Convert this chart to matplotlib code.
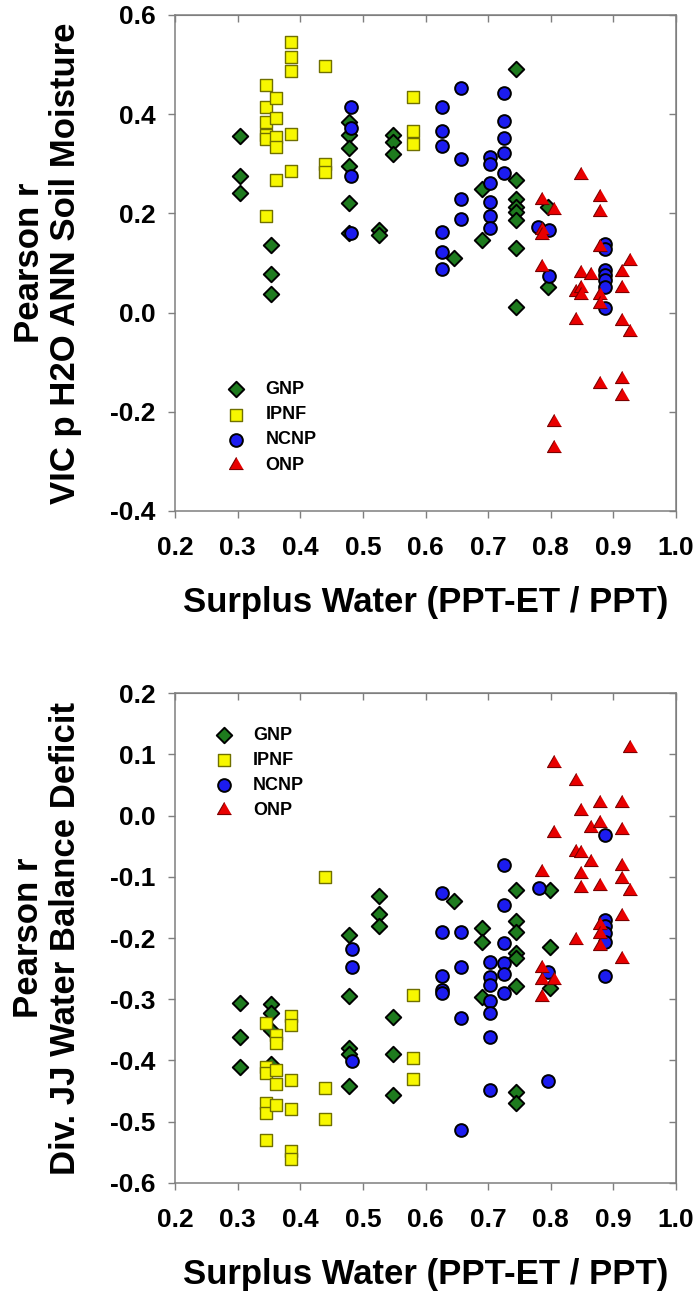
import matplotlib
matplotlib.use("Agg")
import matplotlib.pyplot as plt

plt.rcParams['font.family'] = ['Liberation Sans', 'DejaVu Sans']
plt.rcParams['font.weight'] = 'bold'

# ---- top panel: VIC p H2O ANN Soil Moisture ----
gnp_x1 = [0.303]*3 + [0.354]*3 + [0.478]*6 + [0.525]*2 + [0.548]*3 + [0.646] + [0.690]*2 + [0.744]*8 + [0.795]*2
gnp_y1 = [0.357, 0.276, 0.242,
          0.136, 0.078, 0.037,
          0.385, 0.358, 0.331, 0.296, 0.220, 0.160,
          0.166, 0.156,
          0.359, 0.344, 0.320,
          0.110,
          0.250, 0.147,
          0.492, 0.267, 0.229, 0.213, 0.203, 0.186, 0.131, 0.012,
          0.213, 0.052]

ipnf_x1 = [0.345]*6 + [0.362]*5 + [0.385]*5 + [0.440]*3 + [0.580]*3
ipnf_y1 = [0.459, 0.414, 0.385, 0.358, 0.351, 0.194,
           0.433, 0.392, 0.355, 0.334, 0.268,
           0.546, 0.515, 0.487, 0.360, 0.285,
           0.498, 0.299, 0.283,
           0.435, 0.366, 0.340]

ncnp_x1 = [0.481]*4 + [0.627]*6 + [0.657]*4 + [0.703]*6 + [0.725]*5 + [0.780] + [0.797]*2 + [0.886]*7
ncnp_y1 = [0.415, 0.373, 0.276, 0.160,
           0.414, 0.366, 0.336, 0.163, 0.123, 0.087,
           0.452, 0.309, 0.229, 0.188,
           0.314, 0.299, 0.262, 0.222, 0.195, 0.170,
           0.442, 0.387, 0.353, 0.321, 0.281,
           0.173,
           0.166, 0.073,
           0.139, 0.129, 0.086, 0.076, 0.065, 0.052, 0.010]

onp_x1 = [0.786]*4 + [0.805]*3 + [0.840]*2 + [0.849]*4 + [0.865] + [0.878]*6 + [0.914]*5 + [0.927]*2
onp_y1 = [0.228, 0.166, 0.156, 0.091,
          0.207, -0.220, -0.273,
          0.042, -0.015,
          0.277, 0.080, 0.049, 0.035,
          0.076,
          0.233, 0.203, 0.133, 0.035, 0.018, -0.144,
          0.082, 0.049, -0.017, -0.133, -0.168,
          0.105, -0.039]

# ---- bottom panel: Div. JJ Water Balance Deficit ----
gnp_x2 = [0.303]*3 + [0.354]*4 + [0.478]*5 + [0.525]*3 + [0.548]*3 + [0.646] + [0.690]*3 + [0.745]*8 + [0.798]*3
gnp_y2 = [-0.306, -0.362, -0.411,
          -0.308, -0.323, -0.350, -0.405,
          -0.195, -0.295, -0.379, -0.390, -0.441,
          -0.131, -0.160, -0.180,
          -0.329, -0.389, -0.456,
          -0.140,
          -0.184, -0.206, -0.297,
          -0.121, -0.173, -0.191, -0.225, -0.232, -0.278, -0.452, -0.469,
          -0.121, -0.215, -0.282]

ipnf_x2 = [0.345]*6 + [0.362]*5 + [0.385]*6 + [0.440]*3 + [0.580]*3
ipnf_y2 = [-0.339, -0.410, -0.421, -0.470, -0.486, -0.530,
           -0.358, -0.372, -0.416, -0.439, -0.473,
           -0.328, -0.342, -0.432, -0.479, -0.547, -0.561,
           -0.101, -0.445, -0.496,
           -0.293, -0.396, -0.430]

ncnp_x2 = [0.482]*3 + [0.627]*5 + [0.657]*4 + [0.703]*7 + [0.725]*6 + [0.781] + [0.796]*2 + [0.886]*6
ncnp_y2 = [-0.218, -0.247, -0.401,
           -0.126, -0.190, -0.262, -0.285, -0.289,
           -0.191, -0.247, -0.330, -0.514,
           -0.239, -0.263, -0.277, -0.303, -0.322, -0.362, -0.449,
           -0.081, -0.146, -0.208, -0.240, -0.259, -0.289,
           -0.119,
           -0.255, -0.434,
           -0.032, -0.170, -0.180, -0.192, -0.207, -0.262]

onp_x2 = [0.786]*4 + [0.805]*3 + [0.840]*3 + [0.849]*4 + [0.865]*2 + [0.878]*6 + [0.914]*6 + [0.927]*2
onp_y2 = [-0.093, -0.249, -0.268, -0.297,
          0.086, -0.028, -0.268,
          0.056, -0.059, -0.203,
          0.007, -0.061, -0.096, -0.118,
          -0.021, -0.076,
          0.021, -0.013, -0.115, -0.179, -0.194, -0.213,
          0.021, -0.023, -0.082, -0.104, -0.164, -0.235,
          0.110, -0.124]

labels = ["GNP", "IPNF", "NCNP", "ONP"]
tri = [(0, 1), (-0.866, -0.5), (0.866, -0.5)]
gray = "#7f7f7f"


def panel(ax, data, ylim, yticks, ylabel, leg_anchor):
    (gx, gy), (ix, iy), (nx, ny), (ox, oy) = data
    ax.scatter(gx, gy, marker="D", s=62, c="#1e7b1e", edgecolors="black", linewidths=1.4, label=labels[0], zorder=3)
    ax.scatter(ix, iy, marker="s", s=66, c="#f7f700", edgecolors="#707000", linewidths=1.0, label=labels[1], zorder=3)
    ax.scatter(nx, ny, marker="o", s=84, c="#1c1cf0", edgecolors="black", linewidths=1.4, label=labels[2], zorder=3)
    ax.scatter(ox, oy, marker=tri, s=135, c="#e80000", edgecolors="#7a0000", linewidths=0.8, label=labels[3], zorder=3)

    ax.set_xlim(0.2, 1.0)
    ax.set_ylim(*ylim)
    ax.set_xticks([0.2, 0.3, 0.4, 0.5, 0.6, 0.7, 0.8, 0.9, 1.0])
    ax.set_yticks(yticks)
    ax.set_xticklabels(["%.1f" % v for v in ax.get_xticks()])
    ax.set_yticklabels(["%.1f" % v for v in yticks])
    for sp in ax.spines.values():
        sp.set_color(gray)
        sp.set_linewidth(1.1)
    ax.tick_params(direction="out", length=5, width=1.0, color=gray, labelsize=19, pad=13)
    ax.tick_params(axis="y", pad=9)

    top = ax.secondary_xaxis("top")
    top.set_xticks(ax.get_xticks())
    top.tick_params(direction="in", length=5, width=1.0, color=gray, labeltop=False)
    top.spines["top"].set_color(gray)
    right = ax.secondary_yaxis("right")
    right.set_yticks(yticks)
    right.tick_params(direction="in", length=5, width=1.0, color=gray, labelright=False)
    right.spines["right"].set_color(gray)

    ax.set_xlabel("Surplus Water (PPT-ET / PPT)", fontsize=25, fontweight="bold", labelpad=19)
    ax.set_ylabel(ylabel, fontsize=25, fontweight="bold", labelpad=20, linespacing=1.15)

    ax.legend(loc="upper left", bbox_to_anchor=leg_anchor, frameon=False, fontsize=13,
              handletextpad=1.0, labelspacing=0.45, borderpad=0, handlelength=1.2,
              markerscale=1.0)


fig = plt.figure(figsize=(6.97, 12.93), dpi=100)
ax1 = fig.add_axes([0.2511, 0.6048, 0.7188, 0.3836])
ax2 = fig.add_axes([0.2511, 0.0851, 0.7188, 0.3789])

panel(ax1, [(gnp_x1, gnp_y1), (ipnf_x1, ipnf_y1), (ncnp_x1, ncnp_y1), (onp_x1, onp_y1)],
      (-0.4, 0.6), [-0.4, -0.2, 0.0, 0.2, 0.4, 0.6],
      "Pearson r\nVIC p H2O ANN Soil Moisture", (0.083, 0.28))
panel(ax2, [(gnp_x2, gnp_y2), (ipnf_x2, ipnf_y2), (ncnp_x2, ncnp_y2), (onp_x2, onp_y2)],
      (-0.6, 0.2), [-0.6, -0.5, -0.4, -0.3, -0.2, -0.1, 0.0, 0.1, 0.2],
      "Pearson r\nDiv. JJ Water Balance Deficit", (0.058, 0.95))

fig.savefig("out.png", dpi=100)
